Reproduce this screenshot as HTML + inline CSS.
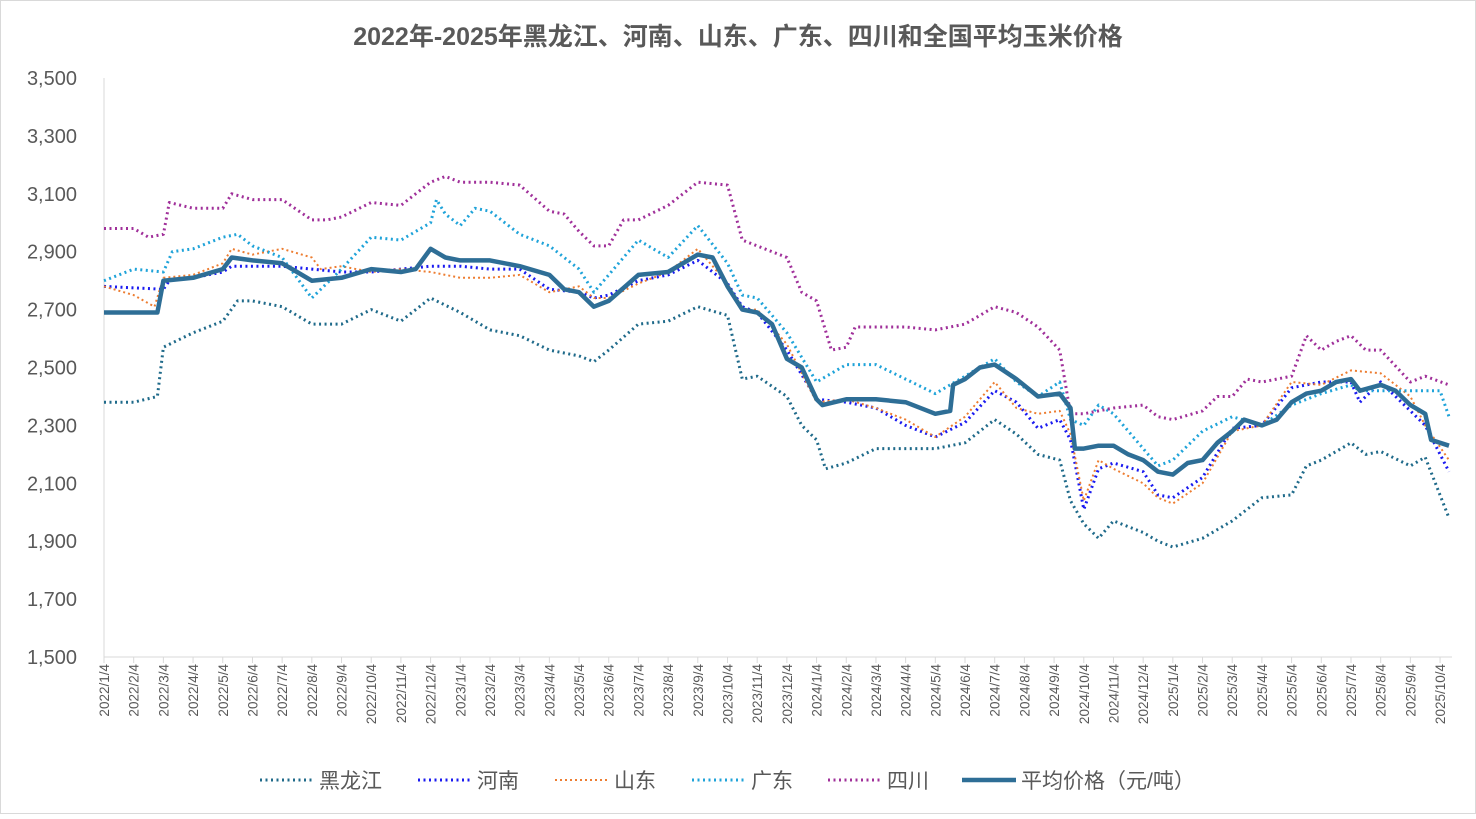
<!DOCTYPE html>
<html><head><meta charset="utf-8"><style>
body{margin:0;background:#fff;}
svg text{font-family:"Liberation Sans","Noto Sans CJK SC",sans-serif;fill:#595959;}
</style></head><body>
<svg id="s" width="1476" height="814" xmlns="http://www.w3.org/2000/svg">
<rect x="0.5" y="0.5" width="1475" height="813" fill="#fff" stroke="#d9d9d9"/>
<text x="738" y="45" text-anchor="middle" font-size="25" font-weight="bold">2022年-2025年黑龙江、河南、山东、广东、四川和全国平均玉米价格</text>
<g id="g"></g>
</svg>
<script>
const S=document.getElementById('g');const NS='http://www.w3.org/2000/svg';
function el(t,a,txt){const e=document.createElementNS(NS,t);for(const k in a)e.setAttribute(k,a[k]);if(txt)e.textContent=txt;S.appendChild(e);return e;}
const Y=v=>657-(v-1500)*0.2895, X=m=>104+m*29.69;
const T=m=>m<=30?m:(m<=33.7?30+(m-30)*(2.7/3.7):m-1);
for(let v=1500;v<=3500;v+=200){el('text',{x:77,y:Y(v)+7,'text-anchor':'end','font-size':20},v.toLocaleString('en-US'));}
el('line',{x1:104,y1:78,x2:104,y2:657,stroke:'#d9d9d9'});
el('line',{x1:104,y1:657,x2:1452,y2:657,stroke:'#d9d9d9'});
for(let m=0;m<46;m++){const yr=2022+Math.floor(m/12),mo=m%12+1;const x=X(m);
el('line',{x1:x,y1:657,x2:x,y2:663,stroke:'#d9d9d9'});
el('text',{x:0,y:0,'font-size':13.5,'text-anchor':'end',transform:`translate(${x+5},664) rotate(-90)`},`${yr}/${mo}/4`);}
function P(arr){let p=[];for(let i=0;i<arr.length;i+=2)p.push(X(T(arr[i])).toFixed(1)+','+Y(arr[i+1]).toFixed(1));return p.join(' ');}
const series=[
['#1F6A8A',[0,2380,1,2380,1.8,2400,2,2570,3,2620,4,2660,4.5,2730,5,2730,6,2710,7,2650,8,2650,9,2700,10,2660,11,2740,12,2690,13,2630,14,2610,15,2560,16,2540,16.5,2520,17,2560,18,2650,19,2660,20,2710,21,2680,21.5,2460,22,2470,23,2400,23.5,2300,24,2250,24.3,2150,25,2170,26,2220,27,2220,28,2220,29,2240,30,2320,31,2270,32,2200,33,2180,33.5,2040,34,1960,34.5,1910,35,1970,36,1930,36.5,1900,37,1880,38,1910,39,1970,40,2050,41,2060,41.5,2160,42,2180,43,2240,43.5,2200,44,2210,45,2160,45.5,2190,46.3,1980],'2,3.5',3],
['#1A1AF0',[0,2780,2,2770,2.2,2800,3,2810,4,2830,4.3,2850,6,2850,7,2840,8,2830,9,2830,10,2840,11,2850,12,2850,13,2840,14,2840,15,2770,16,2760,16.5,2740,17,2750,18,2800,19,2820,20,2870,21,2790,21.5,2710,22,2690,23,2560,24,2390,25,2380,26,2360,27,2300,28,2260,29,2310,30,2420,31,2380,32,2290,33,2320,33.5,2250,34,2010,34.5,2150,35,2170,36,2140,36.5,2060,37,2050,38,2120,39,2290,40,2300,41,2430,42,2450,43,2450,43.3,2380,44,2450,45,2350,45.5,2300,46.3,2140],'2,3.5',3],
['#ED7D31',[0,2780,1,2750,1.7,2710,2,2810,3,2820,4,2860,4.3,2910,5,2890,6,2910,7,2880,7.3,2840,8,2850,9,2830,10,2840,11,2830,12,2810,13,2810,14,2820,15,2760,16,2780,16.5,2740,17,2740,18,2790,19,2830,20,2910,21,2790,21.5,2700,22,2700,23,2580,24,2380,25,2390,26,2360,27,2320,28,2260,29,2330,30,2450,31,2360,32,2340,33,2350,33.5,2270,34,2040,34.5,2180,35,2150,36,2100,36.5,2050,37,2030,38,2100,39,2280,40,2300,41,2450,42,2440,43,2490,44,2480,45,2400,45.5,2300,46.3,2180],'2,3',2],
['#1FA3D9',[0,2800,1,2840,2,2830,2.3,2900,3,2910,4,2950,4.5,2960,5,2920,6,2880,7,2740,8,2840,9,2950,10,2940,11,3000,11.2,3080,11.5,3030,12,2990,12.5,3050,13,3040,14,2960,15,2920,16,2840,16.5,2760,17,2820,18,2940,19,2880,20,2990,21,2860,21.5,2750,22,2740,23,2620,24,2450,25,2510,26,2510,27,2460,28,2410,29,2470,30,2530,31,2450,32,2400,33,2450,33.5,2320,34,2300,34.5,2370,35,2340,36,2220,36.5,2160,37,2180,38,2280,39,2330,40,2300,41,2370,42,2410,43,2440,43.3,2420,44,2420,45,2420,46,2420,46.3,2330],'2,3.5',3],
['#A0309A',[0,2980,1,2980,1.5,2950,2,2960,2.2,3070,3,3050,4,3050,4.3,3100,5,3080,6,3080,7,3010,7.5,3010,8,3020,9,3070,10,3060,11,3140,11.5,3160,12,3140,13,3140,14,3130,15,3040,15.5,3030,16,2970,16.5,2920,17,2920,17.5,3010,18,3010,19,3060,20,3140,21,3130,21.5,2940,22,2920,23,2880,23.5,2760,24,2730,24.5,2560,25,2570,25.3,2640,26,2640,27,2640,28,2630,29,2650,30,2710,31,2690,32,2640,33,2560,33.5,2340,34,2340,35,2360,36,2370,36.5,2330,37,2320,38,2350,38.5,2400,39,2400,39.5,2460,40,2450,41,2470,41.5,2610,42,2560,42.5,2590,43,2610,43.5,2560,44,2560,45,2450,45.5,2470,46.3,2440],'2,3.5',3],
['#2E6E96',[0,2690,1,2690,1.8,2690,2,2800,3,2810,4,2840,4.3,2880,5,2870,6,2860,6.5,2830,7,2800,8,2810,9,2840,10,2830,10.5,2840,11,2910,11.5,2880,12,2870,13,2870,14,2850,15,2820,15.5,2770,16,2760,16.5,2710,17,2730,18,2820,19,2830,20,2890,20.5,2880,21,2780,21.5,2700,22,2690,22.5,2650,23,2530,23.5,2500,24,2390,24.2,2370,25,2390,26,2390,27,2380,28,2340,28.5,2350,28.6,2440,29,2460,29.5,2500,30,2510,31,2460,32,2400,33,2410,33.5,2360,33.7,2220,34,2220,34.5,2230,35,2230,35.5,2200,36,2180,36.5,2140,37,2130,37.5,2170,38,2180,38.5,2240,39,2280,39.4,2320,40,2300,40.5,2320,41,2380,41.5,2410,42,2420,42.5,2450,43,2460,43.3,2420,44,2440,44.5,2420,45,2370,45.5,2340,45.7,2250,46.3,2230],null,4.5]];
for(const [c,d,da,w] of series){const a={points:P(d),fill:'none',stroke:c,'stroke-width':w,'stroke-linejoin':'round'};if(da)a['stroke-dasharray']=da;el('polyline',a);}
const leg=[['黑龙江',260],['河南',418],['山东',555],['广东',692],['四川',828],['平均价格（元/吨）',962]];
leg.forEach((l,i)=>{const s=series[i];const a={x1:l[1],y1:780,x2:l[1]+54,y2:780,stroke:s[0],'stroke-width':s[3]};if(s[2])a['stroke-dasharray']=s[2];el('line',a);el('text',{x:l[1]+59,y:788,'font-size':21},l[0]);});
</script>
</body></html>
